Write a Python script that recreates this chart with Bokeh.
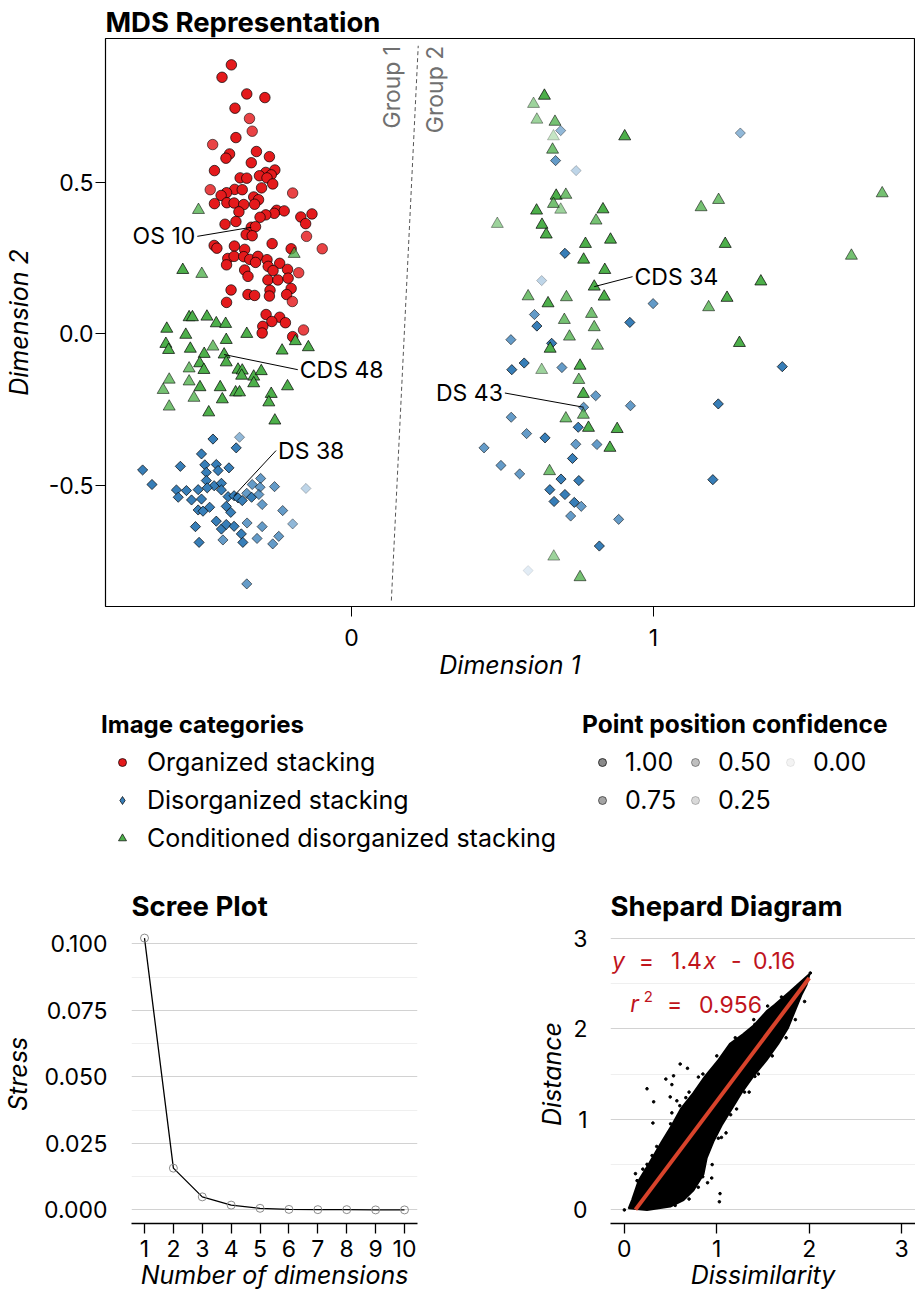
import numpy as np
from bokeh.plotting import figure
from bokeh.models import (Range1d, FixedTicker, PrintfTickFormatter, Legend,
                          LegendItem, ColumnDataSource, Label)
from bokeh.layouts import column, row
from bokeh.embed import file_html
from bokeh.resources import INLINE
from bokeh.core.properties import value

FONT = "Inter"
RED, BLUE, GREEN = "#E41A1C", "#377EB8", "#4DAF4A"
TICK_FS, AXIS_FS, TITLE_FS = "23px", "25px", "27.5px"

# ---------------- MDS data ----------------
categories = ["Organized stacking", "Disorganized stacking",
              "Conditioned disorganized stacking"]

os_x = [-0.398, -0.429, -0.347, -0.287, -0.386, -0.338, -0.329, -0.383, -0.460, -0.315,
        -0.404, -0.416, -0.272, -0.332, -0.454, -0.254, -0.284, -0.305, -0.266, -0.280,
        -0.369, -0.347, -0.261, -0.468, -0.387, -0.362, -0.298, -0.414, -0.432, -0.195,
        -0.324, -0.308, -0.454, -0.413, -0.389, -0.357, -0.321, -0.373, -0.248, -0.223,
        -0.256, -0.284, -0.303, -0.168, -0.131, -0.152, -0.383, -0.419, -0.332, -0.318,
        -0.349, -0.329, -0.149, -0.455, -0.446, -0.388, -0.263, -0.097, -0.200, -0.410,
        -0.389, -0.354, -0.357, -0.337, -0.310, -0.318, -0.280, -0.414, -0.276, -0.238,
        -0.212, -0.260, -0.354, -0.343, -0.175, -0.277, -0.244, -0.210, -0.399, -0.270,
        -0.200, -0.343, -0.321, -0.215, -0.414, -0.272, -0.196, -0.283, -0.238, -0.219,
        -0.264, -0.294, -0.159, -0.296, -0.195]
os_y = [0.887, 0.846, 0.791, 0.779, 0.744, 0.710, 0.668, 0.647, 0.624, 0.601,
        0.593, 0.579, 0.584, 0.564, 0.538, 0.540, 0.532, 0.521, 0.524, 0.514,
        0.514, 0.513, 0.494, 0.475, 0.476, 0.475, 0.481, 0.465, 0.456, 0.464,
        0.451, 0.442, 0.429, 0.432, 0.431, 0.426, 0.427, 0.402, 0.407, 0.405,
        0.397, 0.392, 0.384, 0.385, 0.395, 0.363, 0.370, 0.361, 0.351, 0.353,
        0.327, 0.323, 0.321, 0.291, 0.282, 0.289, 0.297, 0.280, 0.280, 0.248,
        0.255, 0.278, 0.254, 0.245, 0.255, 0.235, 0.244, 0.227, 0.222, 0.232,
        0.212, 0.208, 0.210, 0.189, 0.201, 0.177, 0.177, 0.183, 0.144, 0.143,
        0.149, 0.129, 0.126, 0.129, 0.103, 0.124, 0.106, 0.063, 0.054, 0.036,
        0.040, 0.024, 0.012, 0.002, -0.010]
os_conf = [1, 1, 1, 1, 1, 0.8, 0.8, 1, 0.8, 1,
           1, 1, 1, 1, 1, 1, 1, 1, 1, 1,
           1, 1, 1, 0.8, 1, 1, 1, 1, 1, 0.8,
           1, 1, 1, 1, 1, 1, 1, 1, 1, 1,
           1, 1, 1, 1, 1, 1, 1, 1, 1, 1,
           1, 1, 0.8, 1, 1, 1, 1, 0.8, 1, 1,
           1, 1, 1, 1, 1, 1, 1, 1, 1, 1,
           1, 1, 1, 1, 0.8, 1, 1, 1, 1, 1,
           1, 1, 1, 1, 1, 1, 0.8, 1, 1, 1,
           1, 1, 0.8, 1, 1]

ds_x = [-0.459, -0.371, -0.382, -0.497, -0.692, -0.567, -0.486, -0.448, -0.406, -0.442,
        -0.481, -0.661, -0.580, -0.547, -0.574, -0.508, -0.481, -0.455, -0.431, -0.478,
        -0.431, -0.530, -0.497, -0.409, -0.389, -0.376, -0.362, -0.347, -0.331, -0.329,
        -0.301, -0.303, -0.307, -0.255, -0.151, -0.296, -0.508, -0.492, -0.470, -0.415,
        -0.400, -0.228, -0.448, -0.431, -0.415, -0.389, -0.346, -0.296, -0.195, -0.517,
        -0.365, -0.426, -0.505, -0.360, -0.313, -0.241, -0.261, -0.347,
        0.693, 0.676, 0.744, 0.707, 0.630, 0.999, 0.922, 0.606, 0.614, 0.528,
        0.663, 0.531, 0.572, 0.697, 0.809, 0.769, 0.924, 0.529, 0.751, 0.580,
        0.641, 0.743, 0.813, 0.439, 0.732, 0.495, 0.557, 0.694, 0.753, 0.657,
        0.707, 0.671, 0.738, 0.761, 0.726, 0.885, 0.821, 0.585, 1.288, 1.427,
        1.215, 1.197]
ds_y = [-0.348, -0.342, -0.377, -0.397, -0.450, -0.438, -0.433, -0.432, -0.443, -0.452,
        -0.458, -0.498, -0.516, -0.518, -0.540, -0.515, -0.485, -0.502, -0.494, -0.509,
        -0.516, -0.549, -0.546, -0.538, -0.535, -0.542, -0.551, -0.527, -0.540, -0.498,
        -0.478, -0.507, -0.531, -0.505, -0.511, -0.564, -0.582, -0.586, -0.573, -0.570,
        -0.590, -0.584, -0.619, -0.645, -0.630, -0.636, -0.625, -0.637, -0.628, -0.637,
        -0.661, -0.681, -0.689, -0.689, -0.676, -0.669, -0.694, -0.826,
        0.670, 0.571, 0.538, 0.265, 0.175, 0.099, 0.037, 0.063, 0.025, -0.020,
        -0.032, -0.119, -0.097, -0.112, -0.205, -0.243, -0.238, -0.276, -0.309, -0.330,
        -0.344, -0.365, -0.366, -0.377, -0.412, -0.435, -0.463, -0.480, -0.485, -0.515,
        -0.531, -0.554, -0.557, -0.570, -0.602, -0.613, -0.701, -0.782, 0.662, -0.109,
        -0.232, -0.482]
ds_conf = [1, 0.5, 1, 1, 1, 1, 1, 1, 1, 1,
           1, 1, 1, 1, 1, 1, 1, 1, 1, 1,
           1, 1, 1, 1, 1, 1, 1, 0.75, 1, 0.75,
           0.75, 0.75, 0.75, 0.75, 0.25, 0.75, 1, 1, 1, 1,
           1, 0.75, 1, 1, 1, 1, 0.75, 0.75, 0.5, 1,
           1, 0.75, 1, 1, 0.75, 0.75, 0.75, 0.75,
           0.5, 0.75, 0.25, 1, 0.25, 0.75, 1, 0.75, 1, 0.75,
           1, 1, 1, 0.75, 0.75, 0.75, 0.75, 0.75, 1, 0.75,
           1, 0.75, 0.75, 0.75, 1, 0.75, 0.75, 1, 1, 1,
           1, 1, 1, 0.75, 0.75, 0.75, 1, 0.05, 0.5, 1,
           1, 1]

cds_x = [-0.507, -0.190, -0.559, -0.496, -0.538, -0.527, -0.479, -0.448, -0.417, -0.612,
         -0.549, -0.415, -0.347, -0.186, -0.143, -0.230, -0.615, -0.606, -0.534, -0.459,
         -0.488, -0.422, -0.415, -0.503, -0.538, -0.489, -0.376, -0.362, -0.364, -0.324,
         -0.299, -0.324, -0.604, -0.624, -0.538, -0.502, -0.435, -0.384, -0.371, -0.212,
         -0.266, -0.274, -0.522, -0.428, -0.604, -0.473, -0.254,
         0.639, 0.603, 0.614, 0.674, 0.669, 0.666, 0.905, 0.678, 0.710, 0.669,
         0.693, 0.613, 0.833, 0.810, 0.483, 0.631, 0.645, 0.775, 0.858, 0.769,
         0.839, 0.804, 0.837, 0.585, 0.651, 0.712, 0.795, 0.705, 0.804, 0.722,
         1.758, 1.158, 1.216, 1.238, 1.656, 1.356, 1.244, 1.183, 1.285, 0.658,
         0.815, 0.630, 0.757, 0.753, 0.768, 0.710, 0.768, 0.785, 0.880, 0.856,
         0.656, 0.670, 0.757]
cds_y = [0.408, 0.263, 0.210, 0.197, 0.054, 0.054, 0.056, 0.034, 0.032, 0.016,
         -0.004, -0.021, -0.001, -0.025, -0.045, -0.056, -0.034, -0.054, -0.050, -0.043,
         -0.067, -0.069, -0.095, -0.098, -0.115, -0.120, -0.119, -0.122, -0.139, -0.142,
         -0.124, -0.164, -0.152, -0.186, -0.158, -0.177, -0.177, -0.194, -0.194, -0.174,
         -0.199, -0.227, -0.212, -0.217, -0.241, -0.260, -0.287,
         0.785, 0.758, 0.706, 0.699, 0.651, 0.607, 0.651, 0.455, 0.458, 0.428,
         0.409, 0.406, 0.410, 0.373, 0.362, 0.359, 0.327, 0.296, 0.310, 0.244,
         0.210, 0.155, 0.122, 0.123, 0.100, 0.120, 0.065, 0.045, 0.021, -0.010,
         0.463, 0.417, 0.441, 0.296, 0.257, 0.172, 0.118, 0.087, -0.031, -0.050,
         -0.040, -0.120, -0.106, -0.153, -0.199, -0.280, -0.268, -0.311, -0.315, -0.377,
         -0.454, -0.736, -0.804]
cds_conf = [0.75, 0.75, 1, 0.75, 1, 1, 1, 1, 1, 1,
            1, 1, 1, 1, 1, 1, 1, 1, 1, 0.75,
            1, 1, 1, 1, 0.75, 1, 1, 1, 1, 1,
            1, 1, 0.75, 0.75, 0.75, 1, 1, 1, 1, 1,
            1, 1, 0.75, 1, 0.75, 1, 1,
            1, 0.5, 0.5, 0.75, 0.25, 0.75, 1, 1, 0.75, 0.75,
            0.5, 1, 1, 0.75, 0.5, 1, 1, 1, 1, 1,
            1, 1, 1, 0.75, 1, 0.75, 0.75, 0.75, 0.75, 0.75,
            0.75, 0.75, 0.75, 1, 0.75, 1, 1, 0.75, 1, 1,
            0.75, 0.5, 1, 0.75, 1, 0.75, 0.75, 1, 1, 1,
            0.75, 0.5, 0.75]

# labelled points (point coordinates, and end of the leader line)
label_text = ["OS 10", "CDS 48", "DS 38", "CDS 34", "DS 43"]
label_pt_x = [-0.332, -0.422, -0.389, 0.804, 0.769]
label_pt_y = [0.351, -0.069, -0.535, 0.155, -0.243]
label_end_x = [-0.511, -0.178, -0.250, 0.931, 0.508]
label_end_y = [0.321, -0.119, -0.386, 0.188, -0.196]
label_side = ["right", "left", "left", "left", "right"]

# group separator
group_line_x = [0.132, 0.221]
group_line_y = [-0.881, 0.950]
group_names = ["Group 1", "Group 2"]
group_name_x = [0.135, 0.277]
group_name_y = [0.950, 0.950]

conf_levels = [1.00, 0.75, 0.50, 0.25, 0.00]

# ---------------- Scree data ----------------
scree_dims = [1, 2, 3, 4, 5, 6, 7, 8, 9, 10]
scree_stress = [0.1022, 0.0157, 0.0049, 0.0018, 0.0006, 0.0002, 0.0001, 0.0001, 0.0, 0.0]

# ---------------- Shepard data ----------------
shep_cloud_x = [0.047, 0.083, 0.155, 0.263, 0.406, 0.514, 0.611, 0.748, 0.873, 1.017,
                1.142, 1.287, 1.412, 1.538, 1.627, 1.789, 2.004, 1.969, 1.915, 1.843,
                1.772, 1.664, 1.538, 1.394, 1.268, 1.161, 1.053, 0.963, 0.891, 0.856,
                0.748, 0.640, 0.497, 0.245]
shep_cloud_y = [0.018, 0.108, 0.323, 0.503, 0.754, 0.934, 1.114, 1.293, 1.473, 1.653,
                1.832, 1.940, 2.047, 2.192, 2.263, 2.407, 2.605, 2.478, 2.371, 2.192,
                2.012, 1.832, 1.653, 1.473, 1.293, 1.114, 0.934, 0.754, 0.575, 0.395,
                0.216, 0.108, 0.037, 0.000]
shep_out_x = [0.604, 0.683, 0.532, 0.449, 0.514, 0.245, 0.801, 0.496, 0.568, 0.317,
              0.665, 0.514, 0.309, 0.442, 0.245, 0.137, 1.035, 1.028, 0.945, 0.848,
              1.017, 1.214, 1.412, 1.616, 1.645, 1.304, 1.412, 2.012, 0.000, 0.765,
              0.740, 0.425, 0.352, 0.120, 0.200, 0.900, 1.100, 1.350, 1.700, 1.850,
              0.300, 0.350, 0.500, 0.600, 0.700, 0.850, 1.000, 1.200, 1.400, 1.550,
              1.700, 0.550, 0.700, 0.800, 0.950, 1.050, 1.150, 1.300, 1.450, 1.600,
              1.750, 1.850, 1.950]
shep_out_y = [1.610, 1.563, 1.480, 1.444, 1.383, 1.337, 1.466, 1.247, 1.204, 1.193,
              1.239, 1.071, 0.959, 0.773, 0.503, 0.323, 0.180, 0.090, 0.352, 0.366,
              0.791, 1.114, 1.473, 1.796, 2.263, 1.940, 2.047, 2.615, 0.000, 0.647,
              0.532, 0.395, 0.468, 0.400, 0.450, 0.300, 0.850, 1.300, 1.950, 2.300,
              0.600, 0.700, 0.950, 1.150, 1.300, 1.500, 1.700, 1.900, 2.100, 2.250,
              2.350, 0.050, 0.120, 0.250, 0.500, 0.800, 1.050, 1.300, 1.500, 1.700,
              1.900, 2.100, 2.300]
fit_slope = 1.36
fit_intercept = -0.16
fit_x = [0.12, 2.0]
fit_r2 = 0.956


def conf_alpha(c):
    return [0.1 + 0.9 * v for v in c]


def no_frame_align(fig):
    try:
        fig.frame_align = False
    except Exception:
        pass


def style_axis(ax):
    ax.major_label_text_font = FONT
    ax.major_label_text_font_size = TICK_FS
    ax.major_label_text_color = "black"
    ax.axis_label_text_font = FONT
    ax.axis_label_text_font_size = AXIS_FS
    ax.axis_label_text_font_style = "italic"
    ax.axis_label_text_color = "black"
    ax.minor_tick_line_color = None


def style_title(fig, standoff):
    fig.title.text_font = FONT
    fig.title.text_font_size = TITLE_FS
    fig.title.text_font_style = "bold"
    fig.title.text_color = "black"
    fig.title.align = "left"
    fig.title.standoff = standoff


# ================= MDS figure =================
p = figure(width=915, height=682, x_range=Range1d(-0.815, 1.865),
           y_range=Range1d(-0.9006, 0.974), title="MDS Representation",
           min_border_left=102, min_border_right=1, min_border_top=38,
           min_border_bottom=76, toolbar_location=None, output_backend="svg")
no_frame_align(p)
style_title(p, 0)
p.xgrid.visible = False
p.ygrid.visible = False
p.outline_line_color = "black"
p.outline_line_width = 1.2
p.outline_line_alpha = 1
p.xaxis.ticker = FixedTicker(ticks=[0, 1])
p.yaxis.ticker = FixedTicker(ticks=[-0.5, 0, 0.5])
p.yaxis.formatter = PrintfTickFormatter(format="%.1f")
p.xaxis.axis_label = "Dimension 1"
p.yaxis.axis_label = "Dimension 2"
for ax in (p.xaxis[0], p.yaxis[0]):
    style_axis(ax)
    ax.axis_line_color = None
    ax.major_tick_out = 10
    ax.major_tick_in = 0
    ax.major_tick_line_color = "black"
p.xaxis.major_label_standoff = 12
p.xaxis.axis_label_standoff = 1
p.yaxis.major_label_standoff = 2
p.yaxis.axis_label_standoff = 12

p.line(group_line_x, group_line_y, line_color="#555555", line_dash="4 3", line_width=1)
p.text(group_name_x, group_name_y, text=group_names, angle=np.pi / 2,
       text_align="right", text_baseline="middle", text_color="#707070",
       text_font=value(FONT), text_font_size="23px")

src_os = ColumnDataSource(dict(x=os_x, y=os_y, a=conf_alpha(os_conf)))
src_ds = ColumnDataSource(dict(x=ds_x, y=ds_y, a=conf_alpha(ds_conf)))
src_cds = ColumnDataSource(dict(x=cds_x, y=cds_y, a=conf_alpha(cds_conf)))
p.scatter("x", "y", source=src_os, marker="circle", size=10.5, fill_color=RED,
          line_color="black", line_width=0.7, fill_alpha="a", line_alpha="a")
p.scatter("x", "y", source=src_ds, marker="square", angle=np.pi / 4, size=7.2,
          fill_color=BLUE, line_color="black", line_width=0.7, fill_alpha="a", line_alpha="a")
p.scatter("x", "y", source=src_cds, marker="triangle", size=12, fill_color=GREEN,
          line_color="black", line_width=0.7, fill_alpha="a", line_alpha="a")

p.segment(label_pt_x, label_pt_y, label_end_x, label_end_y, line_color="black", line_width=1)
for side, off in (("left", 2), ("right", -2)):
    idx = [i for i, s in enumerate(label_side) if s == side]
    p.text([label_end_x[i] for i in idx], [label_end_y[i] for i in idx],
           text=[label_text[i] for i in idx], text_align=side, text_baseline="middle",
           x_offset=off, text_font=value(FONT), text_font_size="23px", text_color="black")

# ================= Legend figure =================
pl = figure(width=915, height=186, x_range=Range1d(0, 1), y_range=Range1d(0, 1),
            x_axis_type=None, y_axis_type=None, min_border=0,
            toolbar_location=None, output_backend="svg")
no_frame_align(pl)
pl.outline_line_color = None
pl.grid.visible = False

HIDDEN = dict(x=[-100], y=[-100])
r_os = pl.scatter(marker="circle", fill_color=RED, line_color="black", line_width=0.7, **HIDDEN)
r_ds = pl.scatter(marker="diamond", fill_color=BLUE, line_color="black", line_width=0.7, **HIDDEN)
r_cds = pl.scatter(marker="triangle", fill_color=GREEN, line_color="black", line_width=0.7, **HIDDEN)
cat_items = [LegendItem(label=lab, renderers=[r]) for lab, r in zip(categories, [r_os, r_ds, r_cds])]

conf_items = []
for lvl in conf_levels:
    a = 0.1 + 0.9 * lvl
    rr = pl.scatter(marker="circle", fill_color="#8a8a8a", line_color="black",
                    line_width=0.7, fill_alpha=a, line_alpha=a, **HIDDEN)
    conf_items.append(LegendItem(label=f"{lvl:.2f}", renderers=[rr]))

common = dict(padding=0, margin=0, spacing=6, glyph_height=20, label_height=32,
              label_text_font=FONT, label_text_font_size="25px", label_text_color="black",
              title_text_font=FONT, title_text_font_style="bold", title_text_color="black",
              title_standoff=7, border_line_color=None, background_fill_alpha=0)
leg1 = Legend(items=cat_items, title="Image categories", location=(101, 14),
              title_text_font_size="24px", glyph_width=42, label_standoff=4, **common)
pl.add_layout(leg1)
# confidence legend laid out as three columns (1.00/0.75, 0.50/0.25, 0.00)
conf_cols = [(conf_items[0:2], "Point position confidence", 582, 52),
             (conf_items[2:4], None, 675, 52),
             (conf_items[4:5], None, 770, 90)]
for items, ttl, lx, ly in conf_cols:
    kw = dict(common)
    leg = Legend(items=items, location=(lx, ly), glyph_width=40, label_standoff=3,
                 title_text_font_size="24.5px", **kw)
    if ttl:
        leg.title = ttl
    pl.add_layout(leg)

# ================= Scree figure =================
ps = figure(width=440, height=424, x_range=Range1d(0.55, 10.45),
            y_range=Range1d(-0.00511, 0.1073), title="Scree Plot",
            min_border_left=118, min_border_right=23, min_border_top=56, min_border_bottom=68,
            toolbar_location=None, output_backend="svg")
no_frame_align(ps)
style_title(ps, 3)
ps.outline_line_color = None
ps.xgrid.visible = False
ps.ygrid.grid_line_color = "#d2d2d2"
ps.ygrid.minor_grid_line_color = "#efefef"
ps.xaxis.ticker = FixedTicker(ticks=scree_dims)
ps.yaxis.ticker = FixedTicker(ticks=[0, 0.025, 0.05, 0.075, 0.1],
                              minor_ticks=[0.0125, 0.0375, 0.0625, 0.0875])
ps.yaxis.formatter = PrintfTickFormatter(format="%.3f")
ps.xaxis.axis_label = "Number of dimensions"
ps.yaxis.axis_label = "Stress"
ps.line(scree_dims, scree_stress, line_color="black", line_width=1.3)
ps.scatter(scree_dims, scree_stress, marker="circle", size=8, fill_color=None,
           line_color="#8c8c8c", line_width=1)

# ================= Shepard figure =================
pp = figure(width=475, height=424, x_range=Range1d(-0.15, 3.15), y_range=Range1d(-0.15, 3.15),
            title="Shepard Diagram", min_border_left=170, min_border_right=0,
            min_border_top=56, min_border_bottom=68, toolbar_location=None, output_backend="svg")
no_frame_align(pp)
style_title(pp, 3)
pp.outline_line_color = None
pp.xgrid.visible = False
pp.ygrid.grid_line_color = "#d2d2d2"
pp.ygrid.minor_grid_line_color = "#efefef"
pp.xaxis.ticker = FixedTicker(ticks=[0, 1, 2, 3])
pp.yaxis.ticker = FixedTicker(ticks=[0, 1, 2, 3], minor_ticks=[0.5, 1.5, 2.5])
pp.xaxis.axis_label = "Dissimilarity"
pp.yaxis.axis_label = "Distance"
pp.patch(shep_cloud_x, shep_cloud_y, fill_color="black", line_color="black", line_width=2)
pp.scatter(shep_out_x, shep_out_y, marker="circle", size=2.6, color="black")
fit_y = [fit_slope * v + fit_intercept for v in fit_x]
pp.line(fit_x, fit_y, line_color="#D8432B", line_width=4)

EQ_COL = "#C0141C"
eq_parts = [("y", "italic", -0.135), ("=", "normal", 0.155), (f"{round(fit_slope, 1)}", "normal", 0.505),
            ("x", "italic", 0.855), ("-", "normal", 1.155), (f"{abs(fit_intercept):.2f}", "normal", 1.392)]
for t, st, xx in eq_parts:
    pp.add_layout(Label(x=xx, y=2.748, text=t, text_font=FONT, text_font_style=st,
                        text_font_size="23px", text_color=EQ_COL, text_baseline="middle",
                        text_align="left"))
r2_parts = [("r", "italic", 0.065, "23px", 0), ("2", "normal", 0.209, "15px", 8),
            ("=", "normal", 0.460, "23px", 0), (f"{fit_r2:.3f}", "normal", 0.808, "23px", 0)]
for t, st, xx, fs, yo in r2_parts:
    pp.add_layout(Label(x=xx, y=2.27, text=t, text_font=FONT, text_font_style=st,
                        text_font_size=fs, text_color=EQ_COL, text_baseline="middle",
                        text_align="left", y_offset=yo))

for fig, lab_standoff, ax_standoff in ((ps, 18, 8), (pp, 17, 3)):
    for ax in (fig.xaxis[0], fig.yaxis[0]):
        style_axis(ax)
    fig.yaxis.axis_line_color = None
    fig.yaxis.major_tick_line_color = None
    fig.yaxis.major_label_standoff = lab_standoff
    fig.yaxis.axis_label_standoff = ax_standoff
    fig.xaxis.axis_line_color = "black"
    fig.xaxis.axis_line_width = 1.3
    fig.xaxis.major_tick_line_color = "black"
    fig.xaxis.major_tick_line_width = 1.3
    fig.xaxis.major_tick_out = 10
    fig.xaxis.major_tick_in = 0
    fig.xaxis.major_label_standoff = 6
    fig.xaxis.axis_label_standoff = 0

layout = column(p, pl, row(ps, pp))
open("out.html", "w").write(file_html(layout, INLINE))
